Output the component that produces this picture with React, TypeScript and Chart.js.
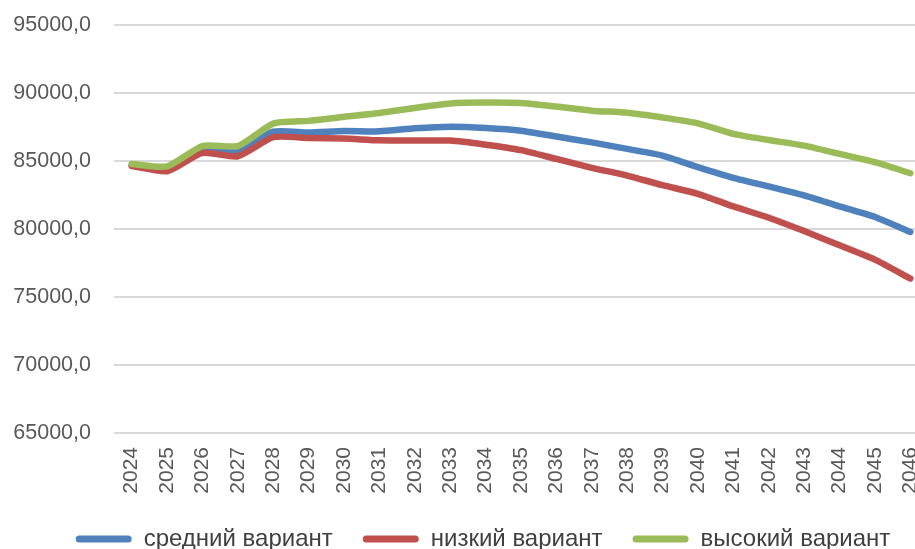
import React, { useEffect, useRef } from "react";
import { Chart, registerables } from "chart.js";

Chart.register(...registerables);

const years = ["2024","2025","2026","2027","2028","2029","2030","2031","2032","2033","2034","2035","2036","2037","2038","2039","2040","2041","2042","2043","2044","2045","2046"];
const medium = [84700,84450,85750,85700,87150,87100,87200,87180,87400,87520,87430,87230,86800,86370,85890,85400,84550,83760,83130,82470,81660,80880,79780];
const low = [84630,84250,85600,85350,86750,86700,86650,86520,86500,86500,86200,85800,85150,84500,83930,83220,82590,81660,80830,79850,78800,77750,76360];
const high = [84780,84600,86100,86100,87750,87950,88250,88530,88900,89230,89300,89260,89000,88700,88550,88200,87770,86990,86540,86130,85520,84910,84100];
const seriesNames = ["средний вариант", "низкий вариант", "высокий вариант"];
const colors = ["#4F81BD", "#C0504D", "#9BBB59"];

const legendShift = {
  id: "legendShift",
  afterLayout(chart: any) {
    const lg = chart.legend;
    if (!lg) return;
    const target = 38;
    const d = target - lg.left;
    lg.left = target;
    (lg.legendHitBoxes || []).forEach((b: any) => { b.left += d; });
  },
};

export default function App() {
  const ref = useRef<HTMLCanvasElement>(null);
  useEffect(() => {
    if (!ref.current) return;
    const font = "'Liberation Sans', Arial, sans-serif";
    const mk = (i: number, data: number[], order: number) => ({
      label: seriesNames[i],
      data,
      borderColor: colors[i],
      backgroundColor: colors[i],
      borderWidth: 6.5,
      pointRadius: 0,
      tension: 0.2,
      borderCapStyle: "round" as const,
      borderJoinStyle: "round" as const,
      order,
    });
    const defaultGen = (Chart.defaults as any).plugins.legend.labels.generateLabels;
    const chart = new Chart(ref.current, {
      type: "line",
      data: {
        labels: years,
        datasets: [mk(0, medium, 2), mk(1, low, 1), mk(2, high, 0)],
      },
      plugins: [legendShift],
      options: {
        animation: false,
        responsive: false,
        maintainAspectRatio: false,
        layout: { padding: { left: 0, right: 32, top: 25, bottom: 0 } },
        scales: {
          x: {
            offset: true,
            afterFit: (s: any) => { s.height = 64; s.paddingTop = 0; s.paddingBottom = 0; },
            grid: { display: false, drawTicks: false },
            border: { display: false },
            ticks: {
              minRotation: 90,
              maxRotation: 90,
              padding: 14,
              color: "#595959",
              font: { family: font, size: 21 },
              autoSkip: false,
            },
          },
          y: {
            min: 65000,
            max: 95000,
            afterFit: (s: any) => { s.width = 114; s.paddingTop = 0; s.paddingBottom = 0; },
            grid: { color: "#d9d9d9", lineWidth: 2, drawTicks: false },
            border: { display: false },
            ticks: {
              stepSize: 5000,
              padding: 23,
              color: "#595959",
              font: { family: font, size: 21.5 },
              callback: (v: any) => Number(v).toFixed(1).replace(".", ","),
            },
          },
        },
        plugins: {
          legend: {
            position: "bottom",
            labels: {
              generateLabels: (c: any) => defaultGen(c).map((l: any) => ({ ...l, lineWidth: 0 })),
              sort: (a: any, b: any) => a.datasetIndex - b.datasetIndex,
              boxWidth: 56,
              boxHeight: 7,
              useBorderRadius: true,
              borderRadius: 3.5,
              padding: 30,
              color: "#404040",
              font: { family: font, size: 24 },
            },
          },
          tooltip: { enabled: false },
        },
      },
    });
    return () => chart.destroy();
  }, []);
  return (
    <div style={{ position: "fixed", left: 0, top: 0, width: 915, height: 549, overflow: "hidden", background: "#fff" }}>
      <canvas ref={ref} width={960} height={561} style={{ display: "block", width: 960, height: 561 }} />
    </div>
  );
}
